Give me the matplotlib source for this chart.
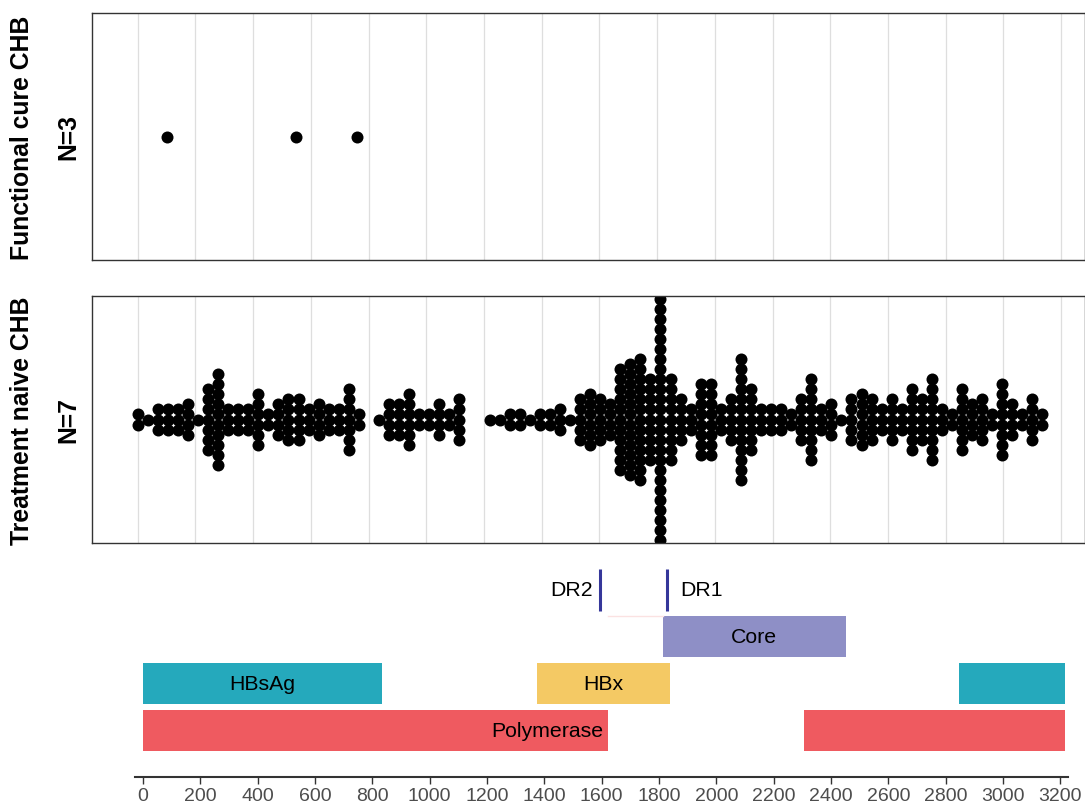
import matplotlib
matplotlib.use('Agg')
import matplotlib.pyplot as plt
from matplotlib import font_manager

# dot plot data: number of dots stacked in each bin along the genome
bin_width = 34.84
cure_positions = [101, 549, 760]
naive_counts = (
    [2, 1, 3, 3, 3, 4, 1, 7, 10, 3, 3, 3, 6, 2, 4, 5, 5, 3, 4, 3, 3, 7, 2]
    + [0]
    + [1, 4, 4, 6, 2, 2, 4, 2, 5]
    + [0, 0]
    + [1, 1, 2, 2, 1, 2, 2, 3, 1, 5, 6, 5, 4]
    + [11, 12, 13, 9, 25]
    + [9, 5, 3, 8, 8, 3, 5, 13, 7, 3, 3, 3]
    + [2, 5, 9, 3, 4, 1, 5, 6, 5, 3, 5, 3, 7, 5, 9, 3, 2, 7, 4, 5, 2, 8, 4, 2, 5, 2]
)
panel_titles = ['Functional cure CHB', 'Treatment naive CHB']
panel_n = ['N=3', 'N=7']

# genome map
gene_names = ['Polymerase', 'Polymerase', 'HBsAg', 'HBsAg', 'HBx', 'Core']
gene_start = [0, 2307, 0, 2848, 1374, 1814]
gene_end = [1623, 3215, 835, 3215, 1838, 2452]
gene_row = [0, 0, 1, 1, 1, 2]
label_names = ['Polymerase', 'HBsAg', 'HBx', 'Core']
label_x = [1410, 415, 1606, 2133]
label_row = [0, 1, 1, 2]
dr_names = ['DR2', 'DR1']
dr_pos = [1595, 1829]
genome_ticks = list(range(0, 3201, 200))

gene_colors = {'Polymerase': '#EF5A60', 'HBsAg': '#25A9BC',
               'HBx': '#F4C964', 'Core': '#8E8FC6'}

names = {f.name for f in font_manager.fontManager.ttflist}
if 'Liberation Sans Narrow' in names:
    map_font, map_size, tick_size = 'Liberation Sans Narrow', 17.5, 15.5
else:
    map_font, map_size, tick_size = 'Liberation Sans', 15.3, 14
plt.rcParams['font.family'] = ['Liberation Sans', 'DejaVu Sans']

W, H = 1085, 804
fig = plt.figure(figsize=(W / 100, H / 100), dpi=100)


def box(l, t, r, b):
    return [l / W, 1 - b / H, (r - l) / W, (b - t) / H]


ax1 = fig.add_axes(box(92, 14, 1085, 261))
ax2 = fig.add_axes(box(92, 297, 1085, 544))
ax3 = fig.add_axes(box(135, 565, 1068, 778))

dot_s = (12 * 72 / 100) ** 2
half = (247 / 2) / 10.05

for ax in (ax1, ax2):
    ax.set_xlim(-158.4, 3283)
    ax.set_ylim(-half, half)
    ax.set_xticks(genome_ticks)
    ax.set_yticks([])
    ax.tick_params(length=0, labelbottom=False)
    ax.grid(axis='x', color='#dedede', lw=0.9)
    ax.set_axisbelow(True)
    for sp in ax.spines.values():
        sp.set_color('#333333')
        sp.set_linewidth(1.0)

ax1.scatter(cure_positions, [0] * len(cure_positions), s=dot_s, color='black', lw=0)

xs, ys = [], []
for k, n in enumerate(naive_counts):
    for i in range(n):
        xs.append(k * bin_width)
        ys.append(i - (n - 1) / 2)
ax2.scatter(xs, ys, s=dot_s, color='black', lw=0)

for (yc, title, nlab) in zip([137.5, 420.5], panel_titles, panel_n):
    fig.text(22 / W, 1 - yc / H, title, rotation=90, ha='center', va='center',
             fontsize=17.8, fontweight='bold')
    fig.text(68 / W, 1 - yc / H, nlab, rotation=90, ha='center', va='center',
             fontsize=17.8, fontweight='bold')

# genome map
ax3.set_xlim(-28, 3227)
ax3.set_ylim(-0.98, 3.55)
for name, s, e, r in zip(gene_names, gene_start, gene_end, gene_row):
    ax3.barh(r, e - s, left=s, height=0.87, color=gene_colors[name], lw=0)
ax3.plot([1623, 1814], [2.435, 2.435], color='#fbe2e2', lw=1)
for name, x, r in zip(label_names, label_x, label_row):
    ax3.text(x, r, name, ha='center', va='center', family=map_font, fontsize=map_size)
ax3.vlines(dr_pos, 3 - 0.45, 3 + 0.45, color='#35379A', lw=2.2)
ax3.annotate(dr_names[0], (dr_pos[0], 3), xytext=(-5, 0), textcoords='offset points',
             ha='right', va='center', family=map_font, fontsize=map_size)
ax3.annotate(dr_names[1], (dr_pos[1], 3), xytext=(9, 0), textcoords='offset points',
             ha='left', va='center', family=map_font, fontsize=map_size)

for side in ('top', 'left', 'right'):
    ax3.spines[side].set_visible(False)
ax3.spines['bottom'].set_color('#333333')
ax3.spines['bottom'].set_linewidth(1.5)
ax3.set_yticks([])
ax3.set_xticks(genome_ticks)
ax3.set_xticklabels([str(t) for t in genome_ticks], family=map_font, fontsize=tick_size)
ax3.tick_params(axis='x', length=5, width=1, color='#333333', labelcolor='#4d4d4d', pad=2.5)

fig.savefig('out.png', dpi=100)
